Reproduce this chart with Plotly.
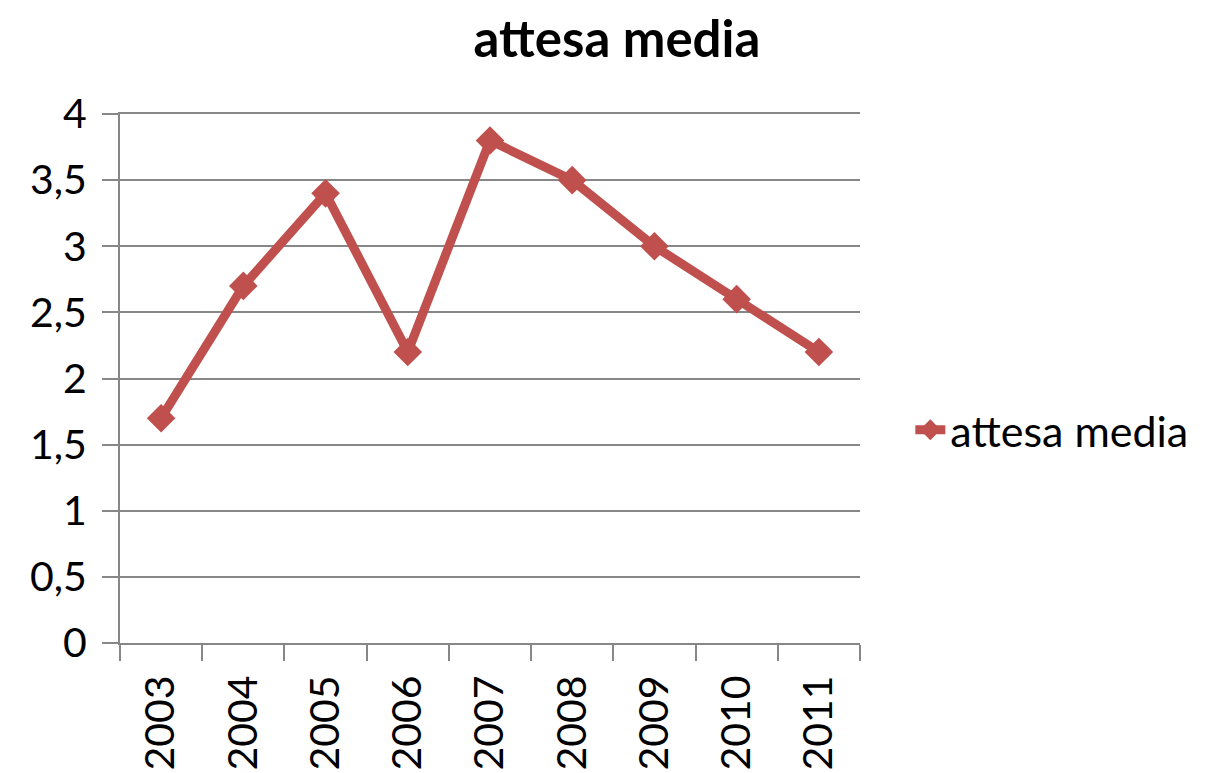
import plotly.graph_objects as go

years = ["2003", "2004", "2005", "2006", "2007", "2008", "2009", "2010", "2011"]
attesa_media = [1.7, 2.7, 3.4, 2.2, 3.8, 3.5, 3.0, 2.6, 2.2]
series_name = "attesa media"
title_text = "attesa media"

color = "#C0504D"
grid = "#878787"
font_family = "Lato, Noto Sans, sans-serif"

W, H = 1199, 765  # page body has an 8px margin

fig = go.Figure()
fig.add_trace(go.Scatter(
    x=years, y=attesa_media, name=series_name, mode="lines+markers",
    line=dict(color=color, width=9),
    marker=dict(symbol="diamond", size=22, color=color),
))

fig.update_layout(
    width=W, height=H,
    paper_bgcolor="white", plot_bgcolor="white",
    margin=dict(l=112, r=347, t=106, b=130, autoexpand=False),
    separators=",.",
    font=dict(family=font_family, size=41, color="black"),
    title=dict(text="<b>" + title_text + "</b>", x=(617 - 8) / W, xanchor="center",
               y=1 - 31 / H, yanchor="middle",
               font=dict(size=51, family=font_family, color="black")),
    showlegend=True,
    legend=dict(x=1.068, xanchor="left", y=0.403, yanchor="middle",
                font=dict(size=43, family=font_family), bgcolor="rgba(0,0,0,0)"),
    xaxis=dict(type="category", range=[-0.5, 8.5], tickson="boundaries",
               ticks="outside", ticklen=16, tickcolor=grid, tickwidth=2,
               showline=True, mirror=True, linecolor=grid, linewidth=2,
               showgrid=False, tickangle=-90, tickfont=dict(size=41),
               ticklabelstandoff=14),
    yaxis=dict(range=[0, 4], dtick=0.5, ticks="outside", ticklen=16, tickcolor=grid,
               tickwidth=2, showgrid=True, gridcolor=grid, gridwidth=2,
               showline=True, linecolor=grid, linewidth=2, zeroline=False,
               tickfont=dict(size=41), ticklabelstandoff=7),
)

fig.write_html("out.html")
